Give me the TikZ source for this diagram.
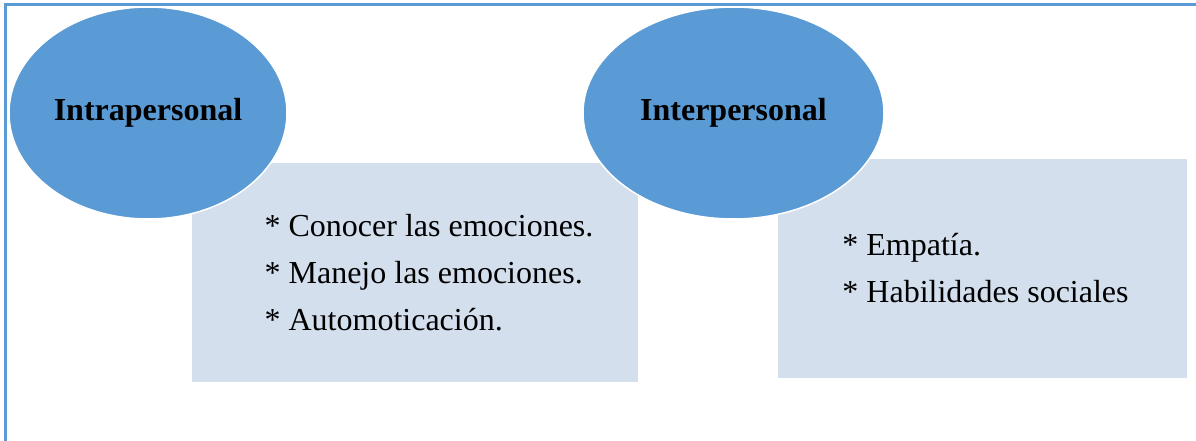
\documentclass[tikz,border=0pt]{standalone}
\usepackage{fontspec}
\setmainfont{Liberation Serif}
\usetikzlibrary{shapes.geometric,positioning}
\definecolor{officeblue}{HTML}{5B9BD5}
\definecolor{paleblue}{HTML}{D4DFEE}

\begin{document}
\begin{tikzpicture}[x=1pt,y=-1pt,
  area/.style={fill=paleblue,inner sep=0pt},
  listtext/.style={align=left,inner sep=0pt,font=\fontsize{32}{47}\selectfont},
  bubble/.style={ellipse,fill=officeblue,draw=white,line width=1.5pt,inner sep=0pt,font=\fontsize{32}{36}\selectfont\bfseries}]
\useasboundingbox (0,0) rectangle (1196,441);
\draw[officeblue,line width=3pt] (5,441) -- (5,5) -- (1196,5);
\node[area,minimum width=446pt,minimum height=219pt] (intra-box) at (415,272.5) {};
\node[area,minimum width=409pt,minimum height=219pt] (inter-box) at (982.5,268.5) {};
\node[listtext,xshift=14pt] (intra-list) at (intra-box.center) {* Conocer las emociones.\\* Manejo las emociones.\\* Automoticación.};
\node[listtext,xshift=3pt] (inter-list) at (inter-box.center) {* Empatía.\\* Habilidades sociales};
\node[bubble,minimum width=278pt,minimum height=212pt] (intra) at (148,113) {Intrapersonal};
\node[bubble,minimum width=301pt,minimum height=212pt] (inter) at (733.5,113) {Interpersonal};
\end{tikzpicture}
\end{document}
